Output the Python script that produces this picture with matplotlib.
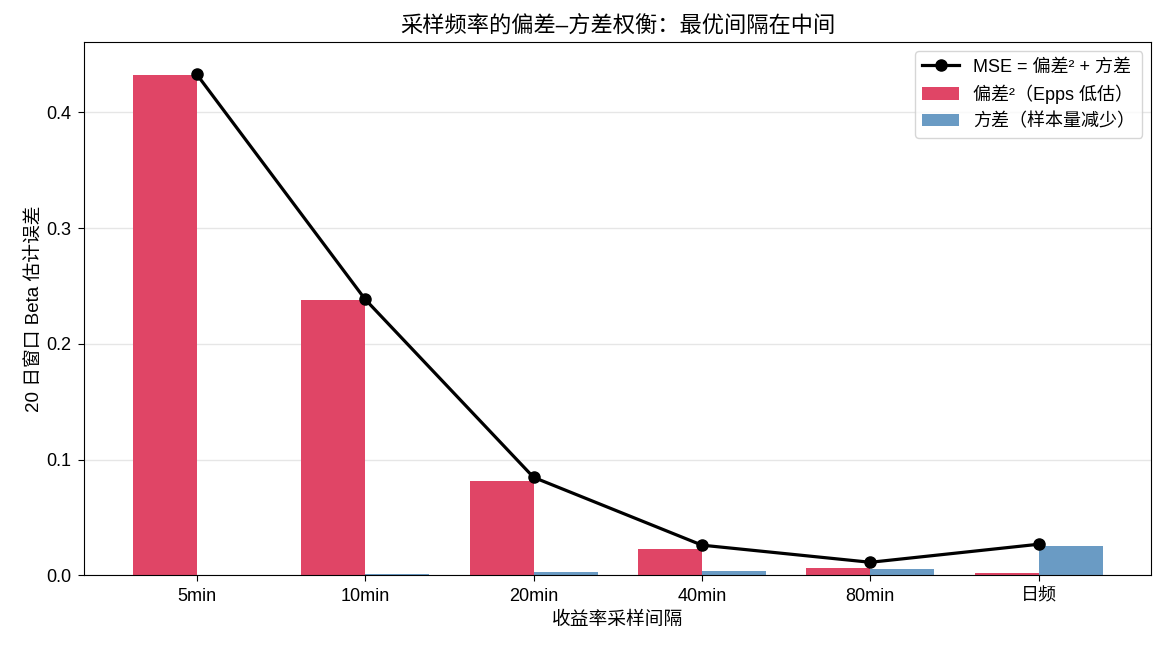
import matplotlib
matplotlib.use("Agg")
import matplotlib.pyplot as plt
import numpy as np

plt.rcParams['font.family'] = ['Liberation Sans', 'Noto Sans CJK SC', 'DejaVu Sans']
plt.rcParams['axes.unicode_minus'] = False

intervals = ['5min', '10min', '20min', '40min', '80min', '日频']
bias_sq = [0.432, 0.2375, 0.0812, 0.0225, 0.006, 0.0017]
variance = [0.0006, 0.0015, 0.0032, 0.0035, 0.0052, 0.025]
mse = [0.4328, 0.2384, 0.0846, 0.0260, 0.0112, 0.0268]

x = np.arange(len(intervals))
w = 0.38

fig, ax = plt.subplots(figsize=(11.7, 6.5), dpi=100)
ax.plot(x, mse, 'k-o', lw=2.3, ms=8, label='MSE = 偏差² + 方差', zorder=5)
ax.bar(x - w / 2, bias_sq, w, color='#e04566', label='偏差²（Epps 低估）')
ax.bar(x + w / 2, variance, w, color='#6a9bc4', label='方差（样本量减少）')

ax.set_xticks(x)
ax.set_xticklabels(intervals)
ax.tick_params(labelsize=13, length=4.5, pad=4.5)
ax.set_ylim(0, 0.4605)
ax.set_xlabel('收益率采样间隔', fontsize=13.5, labelpad=5)
ax.set_ylabel('20 日窗口 Beta 估计误差', fontsize=13.5, labelpad=3)
ax.set_title('采样频率的偏差–方差权衡：最优间隔在中间', fontsize=16, pad=7)
ax.yaxis.grid(True, color='#e6e6e6', lw=1)
ax.set_axisbelow(True)

ax.legend(loc='upper right', fontsize=13)

plt.subplots_adjust(left=0.072, right=0.984, top=0.935, bottom=0.115)
fig.savefig('out.png', dpi=100)
